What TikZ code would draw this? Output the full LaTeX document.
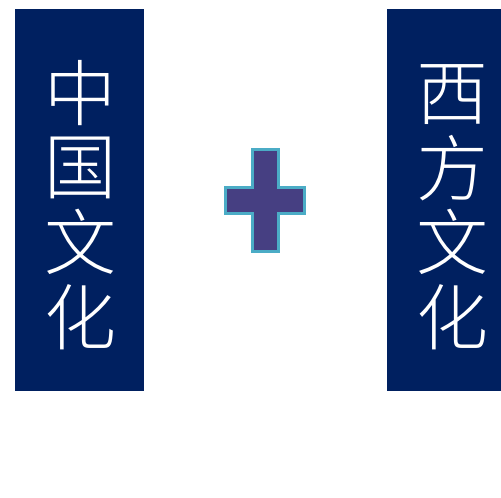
\documentclass[tikz,border=0pt]{standalone}
\usepackage{fontspec}
\newfontfamily\cjk{Noto Sans CJK SC Light}
\definecolor{navy}{HTML}{002060}
\definecolor{plusfill}{HTML}{463F82}
\definecolor{plusline}{HTML}{4BACC6}
\tikzset{
  panel/.style={fill=navy, draw=none},
  hanzi/.style={text=white, font=\cjk\fontsize{72}{72}\selectfont, inner sep=0pt, anchor=center},
}
\begin{document}
\begin{tikzpicture}[x=1pt,y=-1pt]
\useasboundingbox (0,0) rectangle (501,498);
\fill[white] (0,0) rectangle (501,498);
\node[panel, minimum width=129pt, minimum height=382pt, inner sep=0pt, anchor=north west] (left) at (15,9) {};
\node[panel, minimum width=114pt, minimum height=382pt, inner sep=0pt, anchor=north west] (right) at (387,9) {};
\node[hanzi] (l1) at (80,93) {中};
\node[hanzi] (l2) at (80,168) {国};
\node[hanzi] (l3) at (80,242) {文};
\node[hanzi] (l4) at (80,317) {化};
\node[hanzi] (r1) at (452,95) {西};
\node[hanzi] (r2) at (452,168) {方};
\node[hanzi] (r3) at (452,242) {文};
\node[hanzi] (r4) at (452,317) {化};
\draw[fill=plusfill, draw=plusline, line width=2.8pt]
  (252.5,149.5) -- (278.5,149.5) -- (278.5,187.5) -- (304.5,187.5) -- (304.5,213.5) -- (278.5,213.5)
  -- (278.5,251.5) -- (252.5,251.5) -- (252.5,213.5) -- (225.5,213.5) -- (225.5,187.5) -- (252.5,187.5) -- cycle;
\end{tikzpicture}
\end{document}
